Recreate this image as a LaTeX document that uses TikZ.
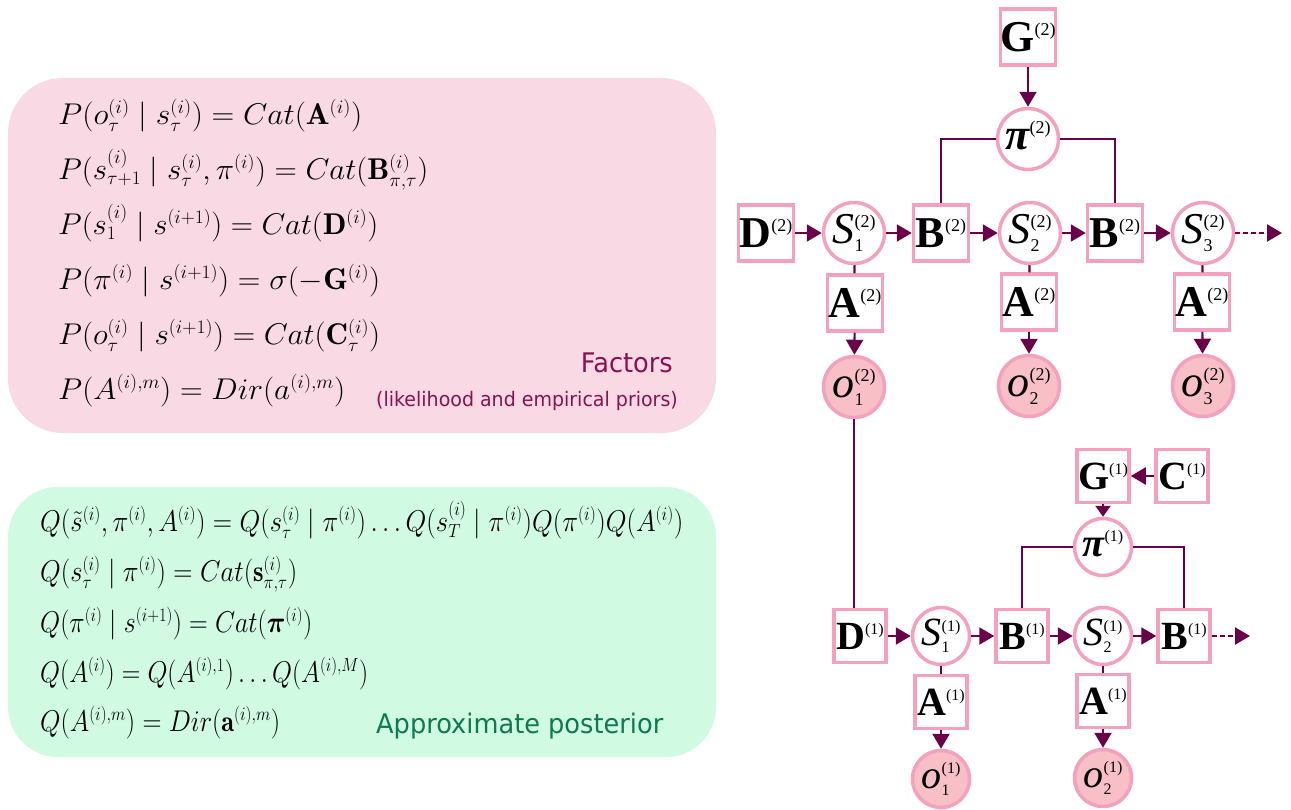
\RequirePackage{fix-cm}
\documentclass[tikz,border=0pt]{standalone}
\usepackage{fontspec}
\usepackage{amsmath}
\usepackage{graphicx}
\usetikzlibrary{arrows.meta}

\newfontfamily\tnr{Liberation Serif}
\newfontfamily\lab[FakeStretch=0.95]{DejaVu Sans}
\DeclareMathSizes{30}{30}{19}{13}

\definecolor{pinkb}{HTML}{F3A1BC}
\definecolor{obsfill}{HTML}{F9BFC7}
\definecolor{plum}{HTML}{6A0048}
\definecolor{panelpink}{HTML}{F8D9E4}
\definecolor{panelgreen}{HTML}{D1FAE3}
\definecolor{factc}{HTML}{8A1152}
\definecolor{postc}{HTML}{0E7A50}

% graph labels: bold factor letters and italic variables with stacked indices
\newlength\supraise
\newlength\subdrop
\def\supfs{17}
\newcommand\gsp[1]{\raisebox{\supraise}{\mdseries\upshape\fontsize{\supfs}{\supfs}\selectfont #1}}
\newcommand\gsb[1]{\raisebox{-\subdrop}{\mdseries\upshape\fontsize{\supfs}{\supfs}\selectfont #1}}
\newcommand\bnode[2]{\makebox[0pt]{{\bfseries #1}\gsp{#2}}}
\newcommand\vnode[3]{\makebox[0pt]{{\itshape #1}\rlap{\gsb{#2}}\gsp{#3}}}

\tikzset{
  lvtwo/.style={font=\tnr\fontsize{44}{44}\selectfont\setlength\supraise{16pt}\setlength\subdrop{8pt}\def\supfs{18}},
  lvone/.style={font=\tnr\fontsize{40}{40}\selectfont\setlength\supraise{14.5pt}\setlength\subdrop{7pt}\def\supfs{16}},
  factorbox/.style={rectangle, draw=pinkb, line width=3.5pt, fill=white, inner sep=0pt},
  fbtwo/.style={factorbox, lvtwo, minimum width=55pt, minimum height=56pt},
  fbone/.style={factorbox, lvone, minimum width=52pt, minimum height=53pt},
  varnode/.style={circle, draw=pinkb, line width=3.5pt, fill=white, inner sep=0pt},
  vntwo/.style={varnode, lvtwo, minimum size=61pt},
  vnone/.style={varnode, lvone, minimum size=57pt},
  obtwo/.style={vntwo, fill=obsfill},
  obone/.style={vnone, fill=obsfill},
  conn/.style={draw=plum, line width=2.2pt},
  arr/.style={conn, -{Triangle[length=15pt,width=17pt]}, fill=plum},
  sarr/.style={conn, -{Triangle[length=11pt,width=15pt]}, fill=plum},
  darr/.style={arr, dash pattern=on 5pt off 3pt},
  eqn/.style={anchor=base west, inner sep=0pt, font=\fontsize{30}{34}\selectfont},
  caption/.style={inner sep=0pt}
}

\begin{document}
\begin{tikzpicture}[x=1pt, y=-1pt]
\useasboundingbox (0,0) rectangle (1291,809);

% ---------- left panels ----------
\path[fill=panelpink, rounded corners=55pt] (8,78) rectangle (716,433);
\path[fill=panelgreen, rounded corners=50pt] (8,487) rectangle (716,757);

% generative model factors
\node[eqn] (p1) at (58,124) {\resizebox{304pt}{\height}{$P(o^{(i)}_{\tau} \mid s^{(i)}_{\tau}) = Cat(\mathbf{A}^{(i)})$}};
\node[eqn] (p2) at (58,179) {\resizebox{370pt}{\height}{$P(s^{(i)}_{\tau+1} \mid s^{(i)}_{\tau}, \pi^{(i)}) = Cat(\mathbf{B}^{(i)}_{\pi,\tau})$}};
\node[eqn] (p3) at (58,234) {\resizebox{320pt}{\height}{$P(s^{(i)}_{1} \mid s^{(i+1)}) = Cat(\mathbf{D}^{(i)})$}};
\node[eqn] (p4) at (58,289) {\resizebox{322pt}{\height}{$P(\pi^{(i)} \mid s^{(i+1)}) = \sigma(-\mathbf{G}^{(i)})$}};
\node[eqn] (p5) at (58,344) {\resizebox{322pt}{\height}{$P(o^{(i)}_{\tau} \mid s^{(i+1)}) = Cat(\mathbf{C}^{(i)}_{\tau})$}};
\node[eqn] (p6) at (58,399) {\resizebox{287pt}{\height}{$P(A^{(i),m}) = Dir(a^{(i),m})$}};

\node[caption, anchor=base east, text=factc, font=\lab\fontsize{27}{30}\selectfont] (fac) at (673,372) {Factors};
\node[caption, anchor=base east, text=factc, font=\lab\fontsize{20}{24}\selectfont] (lik) at (678,406) {(likelihood and empirical priors)};

% approximate posterior
\node[eqn] (q1) at (40,531) {\resizebox{643pt}{\height}{$Q(\tilde{s}^{(i)}, \pi^{(i)}, A^{(i)}) = Q(s^{(i)}_{\tau} \mid \pi^{(i)})\ldots Q(s^{(i)}_{T} \mid \pi^{(i)})Q(\pi^{(i)})Q(A^{(i)})$}};
\node[eqn] (q2) at (40,581) {\resizebox{257pt}{\height}{$Q(s^{(i)}_{\tau} \mid \pi^{(i)}) = Cat(\mathbf{s}^{(i)}_{\pi,\tau})$}};
\node[eqn] (q3) at (40,632) {\resizebox{272pt}{\height}{$Q(\pi^{(i)} \mid s^{(i+1)}) = Cat(\boldsymbol{\pi}^{(i)})$}};
\node[eqn] (q4) at (40,682) {\resizebox{328pt}{\height}{$Q(A^{(i)}) = Q(A^{(i),1})\ldots Q(A^{(i),M})$}};
\node[eqn] (q5) at (40,731) {\resizebox{240pt}{\height}{$Q(A^{(i),m}) = Dir(\mathbf{a}^{(i),m})$}};

\node[caption, anchor=base west, text=postc, font=\lab\fontsize{27}{30}\selectfont] (apx) at (376,733) {Approximate posterior};

% ---------- upper level (2) ----------
\node[fbtwo] (G2) at (1028,37) {\bnode{G}{(2)}};
\node[vntwo] (pi2) at (1028,139) {\vnode{\bfseries π}{}{(2)}};
\node[fbtwo] (D2) at (766,233) {\bnode{D}{(2)}};
\node[vntwo] (s21) at (854,233) {\vnode{S}{1}{(2)}};
\node[fbtwo] (B21) at (941,233) {\bnode{B}{(2)}};
\node[vntwo] (s22) at (1030,233) {\vnode{S}{2}{(2)}};
\node[fbtwo] (B22) at (1115,233) {\bnode{B}{(2)}};
\node[vntwo] (s23) at (1203,233) {\vnode{S}{3}{(2)}};
\coordinate (end2) at (1282,233);
\node[fbtwo] (A21) at (855,303) {\bnode{A}{(2)}};
\node[fbtwo] (A22) at (1029,302) {\bnode{A}{(2)}};
\node[fbtwo] (A23) at (1202,302) {\bnode{A}{(2)}};
\node[obtwo] (o21) at (854,387) {\vnode{o}{1}{(2)}};
\node[obtwo] (o22) at (1029,386) {\vnode{o}{2}{(2)}};
\node[obtwo] (o23) at (1203,386) {\vnode{o}{3}{(2)}};

\draw[arr] (G2) -- (pi2);
\draw[conn] (pi2.west) -| (B21.north);
\draw[conn] (pi2.east) -| (B22.north);
\draw[arr] (D2) -- (s21);
\draw[arr] (s21) -- (B21);
\draw[arr] (B21) -- (s22);
\draw[arr] (s22) -- (B22);
\draw[arr] (B22) -- (s23);
\draw[darr] (s23) -- (end2);
\draw[conn] (s21) -- (A21);
\draw[conn] (s22) -- (A22);
\draw[conn] (s23) -- (A23);
\draw[arr] (A21) -- (o21);
\draw[arr] (A22) -- (o22);
\draw[arr] (A23) -- (o23);

% ---------- lower level (1) ----------
\node[fbone] (G1) at (1103,476) {\bnode{G}{(1)}};
\node[fbone] (C1) at (1182,476) {\bnode{C}{(1)}};
\node[vnone] (pi1) at (1103,547) {\vnode{\bfseries π}{}{(1)}};
\node[fbone] (D1) at (860,636) {\bnode{D}{(1)}};
\node[vnone] (s11) at (941,636) {\vnode{S}{1}{(1)}};
\node[fbone] (B11) at (1022,636) {\bnode{B}{(1)}};
\node[vnone] (s12) at (1103,636) {\vnode{S}{2}{(1)}};
\node[fbone] (B12) at (1184,636) {\bnode{B}{(1)}};
\coordinate (end1) at (1250,636);
\node[fbone] (A11) at (941,702) {\bnode{A}{(1)}};
\node[fbone] (A12) at (1103,701) {\bnode{A}{(1)}};
\node[obone] (o11) at (941,779) {\vnode{o}{1}{(1)}};
\node[obone] (o12) at (1103,778) {\vnode{o}{2}{(1)}};

% link between the levels
\draw[conn] (o21.south) -- (o21.south |- D1.north);

\draw[arr] (C1) -- (G1);
\draw[sarr] (G1) -- (pi1);
\draw[conn] (pi1.west) -| (B11.north);
\draw[conn] (pi1.east) -| (B12.north);
\draw[arr] (D1) -- (s11);
\draw[arr] (s11) -- (B11);
\draw[arr] (B11) -- (s12);
\draw[arr] (s12) -- (B12);
\draw[darr] (B12) -- (end1);
\draw[conn] (s11) -- (A11);
\draw[conn] (s12) -- (A12);
\draw[arr] (A11) -- (o11);
\draw[arr] (A12) -- (o12);
\end{tikzpicture}
\end{document}
